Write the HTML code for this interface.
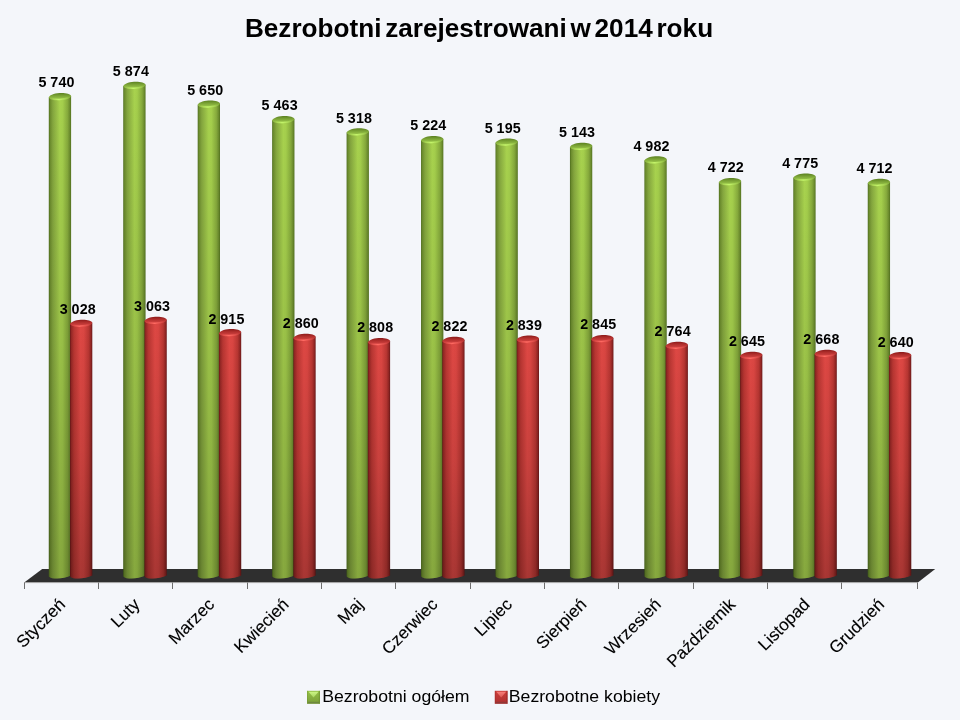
<!DOCTYPE html><html><head><meta charset="utf-8"><style>
html,body{margin:0;padding:0;width:960px;height:720px;overflow:hidden;background:#F4F6FA}
svg{display:block;will-change:transform}
text{font-family:"Liberation Sans",sans-serif}
</style></head><body>
<svg width="960" height="720" viewBox="0 0 960 720">
<defs>
<linearGradient id="gH" x1="0" x2="1" y1="0" y2="0">
 <stop offset="0" stop-color="#4A6A1A"/><stop offset="0.05" stop-color="#6A8A2C"/>
 <stop offset="0.18" stop-color="#84A63E"/><stop offset="0.5" stop-color="#A8D24E"/>
 <stop offset="0.62" stop-color="#A4CE4C"/><stop offset="0.84" stop-color="#86AA3C"/>
 <stop offset="0.94" stop-color="#6C8C2E"/><stop offset="1" stop-color="#52721E"/>
</linearGradient>
<linearGradient id="rH" x1="0" x2="1" y1="0" y2="0">
 <stop offset="0" stop-color="#641616"/><stop offset="0.05" stop-color="#922624"/>
 <stop offset="0.18" stop-color="#B83632"/><stop offset="0.47" stop-color="#DE4844"/>
 <stop offset="0.62" stop-color="#DA4642"/><stop offset="0.84" stop-color="#B83632"/>
 <stop offset="0.94" stop-color="#922624"/><stop offset="1" stop-color="#6A1818"/>
</linearGradient>
<linearGradient id="vShadeR" x1="0" x2="0" y1="0" y2="1">
 <stop offset="0" stop-color="#000" stop-opacity="0"/>
 <stop offset="0.5" stop-color="#000" stop-opacity="0.09"/>
 <stop offset="1" stop-color="#000" stop-opacity="0.24"/>
</linearGradient>
<linearGradient id="vShade" x1="0" x2="0" y1="0" y2="1">
 <stop offset="0" stop-color="#000" stop-opacity="0"/>
 <stop offset="0.5" stop-color="#000" stop-opacity="0.08"/>
 <stop offset="1" stop-color="#000" stop-opacity="0.2"/>
</linearGradient>
<linearGradient id="gTop" x1="0" x2="0" y1="0" y2="1">
 <stop offset="0" stop-color="#5A8020"/><stop offset="0.35" stop-color="#78A034"/><stop offset="0.8" stop-color="#98C448"/><stop offset="1" stop-color="#A8D450"/>
</linearGradient>
<linearGradient id="rTop" x1="0" x2="0" y1="0" y2="1">
 <stop offset="0" stop-color="#8A1A1A"/><stop offset="0.35" stop-color="#B02E2C"/><stop offset="0.8" stop-color="#D04240"/><stop offset="1" stop-color="#DC4844"/>
</linearGradient>
<linearGradient id="gHL" x1="0" x2="1" y1="0" y2="0">
 <stop offset="0" stop-color="#C4F46A" stop-opacity="0"/><stop offset="0.42" stop-color="#C4F46A" stop-opacity="1"/><stop offset="1" stop-color="#C4F46A" stop-opacity="0"/>
</linearGradient>
<linearGradient id="rHL" x1="0" x2="1" y1="0" y2="0">
 <stop offset="0" stop-color="#FF6A62" stop-opacity="0"/><stop offset="0.42" stop-color="#FF6A62" stop-opacity="1"/><stop offset="1" stop-color="#FF6A62" stop-opacity="0"/>
</linearGradient>
</defs>
<rect x="0" y="0" width="960" height="720" fill="#F4F6FA"/>

<text x="479" y="37" text-anchor="middle" font-size="26" font-weight="bold" word-spacing="-3.5" fill="#000" transform="translate(479 0) scale(1.006 1) translate(-479 0)">Bezrobotni zarejestrowani w 2014 roku</text>
<polygon points="24.2,582.5 42.2,569 935.2,569 918.2,582.2" fill="#2F2F2F"/>
<line x1="24.2" y1="582.6" x2="918" y2="582.6" stroke="#A8A8A8" stroke-width="1"/>
<line x1="24.5" y1="582.5" x2="24.5" y2="589" stroke="#6E6E6E" stroke-width="1"/>
<line x1="98.5" y1="582.5" x2="98.5" y2="589" stroke="#6E6E6E" stroke-width="1"/>
<line x1="172.5" y1="582.5" x2="172.5" y2="589" stroke="#6E6E6E" stroke-width="1"/>
<line x1="247.5" y1="582.5" x2="247.5" y2="589" stroke="#6E6E6E" stroke-width="1"/>
<line x1="321.5" y1="582.5" x2="321.5" y2="589" stroke="#6E6E6E" stroke-width="1"/>
<line x1="395.5" y1="582.5" x2="395.5" y2="589" stroke="#6E6E6E" stroke-width="1"/>
<line x1="470.5" y1="582.5" x2="470.5" y2="589" stroke="#6E6E6E" stroke-width="1"/>
<line x1="544.5" y1="582.5" x2="544.5" y2="589" stroke="#6E6E6E" stroke-width="1"/>
<line x1="618.5" y1="582.5" x2="618.5" y2="589" stroke="#6E6E6E" stroke-width="1"/>
<line x1="693.5" y1="582.5" x2="693.5" y2="589" stroke="#6E6E6E" stroke-width="1"/>
<line x1="767.5" y1="582.5" x2="767.5" y2="589" stroke="#6E6E6E" stroke-width="1"/>
<line x1="841.5" y1="582.5" x2="841.5" y2="589" stroke="#6E6E6E" stroke-width="1"/>
<line x1="917.5" y1="582.5" x2="917.5" y2="589" stroke="#6E6E6E" stroke-width="1"/>
<path d="M48.80,97.14 L48.80,576.40 C52.14,579.70 63.30,579.20 71.10,575.60 L71.10,95.94 Z" fill="url(#gH)"/><path d="M48.80,97.14 L48.80,576.40 C52.14,579.70 63.30,579.20 71.10,575.60 L71.10,95.94 Z" fill="url(#vShade)"/><path d="M48.80,97.14 C51.03,91.94 69.98,91.54 71.10,95.94 C69.98,101.14 49.91,101.74 48.80,97.14 Z" fill="url(#gTop)"/><path d="M51.48,98.34 C55.49,100.04 63.30,99.74 68.87,97.54" fill="none" stroke="url(#gHL)" stroke-width="1.5"/>
<path d="M70.00,323.86 L70.00,576.40 C73.34,579.70 84.50,579.20 92.30,575.60 L92.30,322.66 Z" fill="url(#rH)"/><path d="M70.00,323.86 L70.00,576.40 C73.34,579.70 84.50,579.20 92.30,575.60 L92.30,322.66 Z" fill="url(#vShadeR)"/><path d="M70.00,323.86 C72.23,318.66 91.19,318.26 92.30,322.66 C91.19,327.86 71.11,328.46 70.00,323.86 Z" fill="url(#rTop)"/><path d="M72.68,325.06 C76.69,326.76 84.50,326.46 90.07,324.26" fill="none" stroke="url(#rHL)" stroke-width="1.5"/>
<path d="M123.25,85.93 L123.25,576.40 C126.59,579.70 137.75,579.20 145.55,575.60 L145.55,84.73 Z" fill="url(#gH)"/><path d="M123.25,85.93 L123.25,576.40 C126.59,579.70 137.75,579.20 145.55,575.60 L145.55,84.73 Z" fill="url(#vShade)"/><path d="M123.25,85.93 C125.48,80.73 144.44,80.33 145.55,84.73 C144.44,89.93 124.36,90.53 123.25,85.93 Z" fill="url(#gTop)"/><path d="M125.93,87.13 C129.94,88.83 137.75,88.53 143.32,86.33" fill="none" stroke="url(#gHL)" stroke-width="1.5"/>
<path d="M144.45,320.93 L144.45,576.40 C147.79,579.70 158.94,579.20 166.75,575.60 L166.75,319.73 Z" fill="url(#rH)"/><path d="M144.45,320.93 L144.45,576.40 C147.79,579.70 158.94,579.20 166.75,575.60 L166.75,319.73 Z" fill="url(#vShadeR)"/><path d="M144.45,320.93 C146.68,315.73 165.63,315.33 166.75,319.73 C165.63,324.93 145.56,325.53 144.45,320.93 Z" fill="url(#rTop)"/><path d="M147.13,322.13 C151.14,323.83 158.94,323.53 164.52,321.33" fill="none" stroke="url(#rHL)" stroke-width="1.5"/>
<path d="M197.70,104.66 L197.70,576.40 C201.04,579.70 212.19,579.20 220.00,575.60 L220.00,103.46 Z" fill="url(#gH)"/><path d="M197.70,104.66 L197.70,576.40 C201.04,579.70 212.19,579.20 220.00,575.60 L220.00,103.46 Z" fill="url(#vShade)"/><path d="M197.70,104.66 C199.93,99.46 218.88,99.06 220.00,103.46 C218.88,108.66 198.81,109.26 197.70,104.66 Z" fill="url(#gTop)"/><path d="M200.38,105.86 C204.39,107.56 212.19,107.26 217.77,105.06" fill="none" stroke="url(#gHL)" stroke-width="1.5"/>
<path d="M218.90,333.31 L218.90,576.40 C222.24,579.70 233.39,579.20 241.20,575.60 L241.20,332.11 Z" fill="url(#rH)"/><path d="M218.90,333.31 L218.90,576.40 C222.24,579.70 233.39,579.20 241.20,575.60 L241.20,332.11 Z" fill="url(#vShadeR)"/><path d="M218.90,333.31 C221.13,328.11 240.08,327.71 241.20,332.11 C240.08,337.31 220.01,337.91 218.90,333.31 Z" fill="url(#rTop)"/><path d="M221.58,334.51 C225.59,336.21 233.39,335.91 238.97,333.71" fill="none" stroke="url(#rHL)" stroke-width="1.5"/>
<path d="M272.15,120.29 L272.15,576.40 C275.50,579.70 286.65,579.20 294.45,575.60 L294.45,119.09 Z" fill="url(#gH)"/><path d="M272.15,120.29 L272.15,576.40 C275.50,579.70 286.65,579.20 294.45,575.60 L294.45,119.09 Z" fill="url(#vShade)"/><path d="M272.15,120.29 C274.38,115.09 293.34,114.69 294.45,119.09 C293.34,124.29 273.27,124.89 272.15,120.29 Z" fill="url(#gTop)"/><path d="M274.83,121.49 C278.84,123.19 286.65,122.89 292.22,120.69" fill="none" stroke="url(#gHL)" stroke-width="1.5"/>
<path d="M293.35,337.90 L293.35,576.40 C296.70,579.70 307.85,579.20 315.65,575.60 L315.65,336.70 Z" fill="url(#rH)"/><path d="M293.35,337.90 L293.35,576.40 C296.70,579.70 307.85,579.20 315.65,575.60 L315.65,336.70 Z" fill="url(#vShadeR)"/><path d="M293.35,337.90 C295.58,332.70 314.54,332.30 315.65,336.70 C314.54,341.90 294.47,342.50 293.35,337.90 Z" fill="url(#rTop)"/><path d="M296.03,339.10 C300.04,340.80 307.85,340.50 313.42,338.30" fill="none" stroke="url(#rHL)" stroke-width="1.5"/>
<path d="M346.60,132.42 L346.60,576.40 C349.95,579.70 361.10,579.20 368.90,575.60 L368.90,131.22 Z" fill="url(#gH)"/><path d="M346.60,132.42 L346.60,576.40 C349.95,579.70 361.10,579.20 368.90,575.60 L368.90,131.22 Z" fill="url(#vShade)"/><path d="M346.60,132.42 C348.83,127.22 367.79,126.82 368.90,131.22 C367.79,136.42 347.72,137.02 346.60,132.42 Z" fill="url(#gTop)"/><path d="M349.28,133.62 C353.29,135.32 361.10,135.02 366.67,132.82" fill="none" stroke="url(#gHL)" stroke-width="1.5"/>
<path d="M367.80,342.25 L367.80,576.40 C371.15,579.70 382.30,579.20 390.10,575.60 L390.10,341.05 Z" fill="url(#rH)"/><path d="M367.80,342.25 L367.80,576.40 C371.15,579.70 382.30,579.20 390.10,575.60 L390.10,341.05 Z" fill="url(#vShadeR)"/><path d="M367.80,342.25 C370.03,337.05 388.99,336.65 390.10,341.05 C388.99,346.25 368.92,346.85 367.80,342.25 Z" fill="url(#rTop)"/><path d="M370.48,343.45 C374.49,345.15 382.30,344.85 387.87,342.65" fill="none" stroke="url(#rHL)" stroke-width="1.5"/>
<path d="M421.05,140.27 L421.05,576.40 C424.40,579.70 435.55,579.20 443.35,575.60 L443.35,139.07 Z" fill="url(#gH)"/><path d="M421.05,140.27 L421.05,576.40 C424.40,579.70 435.55,579.20 443.35,575.60 L443.35,139.07 Z" fill="url(#vShade)"/><path d="M421.05,140.27 C423.28,135.07 442.24,134.67 443.35,139.07 C442.24,144.27 422.17,144.87 421.05,140.27 Z" fill="url(#gTop)"/><path d="M423.73,141.47 C427.74,143.17 435.55,142.87 441.12,140.67" fill="none" stroke="url(#gHL)" stroke-width="1.5"/>
<path d="M442.25,341.08 L442.25,576.40 C445.60,579.70 456.75,579.20 464.55,575.60 L464.55,339.88 Z" fill="url(#rH)"/><path d="M442.25,341.08 L442.25,576.40 C445.60,579.70 456.75,579.20 464.55,575.60 L464.55,339.88 Z" fill="url(#vShadeR)"/><path d="M442.25,341.08 C444.48,335.88 463.44,335.48 464.55,339.88 C463.44,345.08 443.37,345.68 442.25,341.08 Z" fill="url(#rTop)"/><path d="M444.93,342.28 C448.94,343.98 456.75,343.68 462.32,341.48" fill="none" stroke="url(#rHL)" stroke-width="1.5"/>
<path d="M495.50,142.70 L495.50,576.40 C498.85,579.70 510.00,579.20 517.80,575.60 L517.80,141.50 Z" fill="url(#gH)"/><path d="M495.50,142.70 L495.50,576.40 C498.85,579.70 510.00,579.20 517.80,575.60 L517.80,141.50 Z" fill="url(#vShade)"/><path d="M495.50,142.70 C497.73,137.50 516.69,137.10 517.80,141.50 C516.69,146.70 496.62,147.30 495.50,142.70 Z" fill="url(#gTop)"/><path d="M498.18,143.90 C502.19,145.60 510.00,145.30 515.57,143.10" fill="none" stroke="url(#gHL)" stroke-width="1.5"/>
<path d="M516.70,339.66 L516.70,576.40 C520.05,579.70 531.20,579.20 539.00,575.60 L539.00,338.46 Z" fill="url(#rH)"/><path d="M516.70,339.66 L516.70,576.40 C520.05,579.70 531.20,579.20 539.00,575.60 L539.00,338.46 Z" fill="url(#vShadeR)"/><path d="M516.70,339.66 C518.93,334.46 537.88,334.06 539.00,338.46 C537.88,343.66 517.82,344.26 516.70,339.66 Z" fill="url(#rTop)"/><path d="M519.38,340.86 C523.39,342.56 531.20,342.26 536.77,340.06" fill="none" stroke="url(#rHL)" stroke-width="1.5"/>
<path d="M569.95,147.05 L569.95,576.40 C573.29,579.70 584.44,579.20 592.25,575.60 L592.25,145.85 Z" fill="url(#gH)"/><path d="M569.95,147.05 L569.95,576.40 C573.29,579.70 584.44,579.20 592.25,575.60 L592.25,145.85 Z" fill="url(#vShade)"/><path d="M569.95,147.05 C572.18,141.85 591.13,141.45 592.25,145.85 C591.13,151.05 571.06,151.65 569.95,147.05 Z" fill="url(#gTop)"/><path d="M572.63,148.25 C576.64,149.95 584.44,149.65 590.02,147.45" fill="none" stroke="url(#gHL)" stroke-width="1.5"/>
<path d="M591.15,339.16 L591.15,576.40 C594.50,579.70 605.64,579.20 613.45,575.60 L613.45,337.96 Z" fill="url(#rH)"/><path d="M591.15,339.16 L591.15,576.40 C594.50,579.70 605.64,579.20 613.45,575.60 L613.45,337.96 Z" fill="url(#vShadeR)"/><path d="M591.15,339.16 C593.38,333.96 612.33,333.56 613.45,337.96 C612.33,343.16 592.26,343.76 591.15,339.16 Z" fill="url(#rTop)"/><path d="M593.83,340.36 C597.84,342.06 605.64,341.76 611.22,339.56" fill="none" stroke="url(#rHL)" stroke-width="1.5"/>
<path d="M644.40,160.50 L644.40,576.40 C647.75,579.70 658.89,579.20 666.70,575.60 L666.70,159.30 Z" fill="url(#gH)"/><path d="M644.40,160.50 L644.40,576.40 C647.75,579.70 658.89,579.20 666.70,575.60 L666.70,159.30 Z" fill="url(#vShade)"/><path d="M644.40,160.50 C646.63,155.30 665.58,154.90 666.70,159.30 C665.58,164.50 645.51,165.10 644.40,160.50 Z" fill="url(#gTop)"/><path d="M647.08,161.70 C651.09,163.40 658.89,163.10 664.47,160.90" fill="none" stroke="url(#gHL)" stroke-width="1.5"/>
<path d="M665.60,345.93 L665.60,576.40 C668.95,579.70 680.10,579.20 687.90,575.60 L687.90,344.73 Z" fill="url(#rH)"/><path d="M665.60,345.93 L665.60,576.40 C668.95,579.70 680.10,579.20 687.90,575.60 L687.90,344.73 Z" fill="url(#vShadeR)"/><path d="M665.60,345.93 C667.83,340.73 686.78,340.33 687.90,344.73 C686.78,349.93 666.72,350.53 665.60,345.93 Z" fill="url(#rTop)"/><path d="M668.28,347.13 C672.29,348.83 680.10,348.53 685.67,346.33" fill="none" stroke="url(#rHL)" stroke-width="1.5"/>
<path d="M718.85,182.24 L718.85,576.40 C722.20,579.70 733.35,579.20 741.15,575.60 L741.15,181.04 Z" fill="url(#gH)"/><path d="M718.85,182.24 L718.85,576.40 C722.20,579.70 733.35,579.20 741.15,575.60 L741.15,181.04 Z" fill="url(#vShade)"/><path d="M718.85,182.24 C721.08,177.04 740.03,176.64 741.15,181.04 C740.03,186.24 719.97,186.84 718.85,182.24 Z" fill="url(#gTop)"/><path d="M721.53,183.44 C725.54,185.14 733.35,184.84 738.92,182.64" fill="none" stroke="url(#gHL)" stroke-width="1.5"/>
<path d="M740.05,355.88 L740.05,576.40 C743.40,579.70 754.55,579.20 762.35,575.60 L762.35,354.68 Z" fill="url(#rH)"/><path d="M740.05,355.88 L740.05,576.40 C743.40,579.70 754.55,579.20 762.35,575.60 L762.35,354.68 Z" fill="url(#vShadeR)"/><path d="M740.05,355.88 C742.28,350.68 761.24,350.28 762.35,354.68 C761.24,359.88 741.17,360.48 740.05,355.88 Z" fill="url(#rTop)"/><path d="M742.73,357.08 C746.74,358.78 754.55,358.48 760.12,356.28" fill="none" stroke="url(#rHL)" stroke-width="1.5"/>
<path d="M793.30,177.81 L793.30,576.40 C796.64,579.70 807.79,579.20 815.60,575.60 L815.60,176.61 Z" fill="url(#gH)"/><path d="M793.30,177.81 L793.30,576.40 C796.64,579.70 807.79,579.20 815.60,575.60 L815.60,176.61 Z" fill="url(#vShade)"/><path d="M793.30,177.81 C795.53,172.61 814.48,172.21 815.60,176.61 C814.48,181.81 794.41,182.41 793.30,177.81 Z" fill="url(#gTop)"/><path d="M795.98,179.01 C799.99,180.71 807.79,180.41 813.37,178.21" fill="none" stroke="url(#gHL)" stroke-width="1.5"/>
<path d="M814.50,353.96 L814.50,576.40 C817.85,579.70 829.00,579.20 836.80,575.60 L836.80,352.76 Z" fill="url(#rH)"/><path d="M814.50,353.96 L814.50,576.40 C817.85,579.70 829.00,579.20 836.80,575.60 L836.80,352.76 Z" fill="url(#vShadeR)"/><path d="M814.50,353.96 C816.73,348.76 835.68,348.36 836.80,352.76 C835.68,357.96 815.62,358.56 814.50,353.96 Z" fill="url(#rTop)"/><path d="M817.18,355.16 C821.19,356.86 829.00,356.56 834.57,354.36" fill="none" stroke="url(#rHL)" stroke-width="1.5"/>
<path d="M867.75,183.08 L867.75,576.40 C871.10,579.70 882.25,579.20 890.05,575.60 L890.05,181.88 Z" fill="url(#gH)"/><path d="M867.75,183.08 L867.75,576.40 C871.10,579.70 882.25,579.20 890.05,575.60 L890.05,181.88 Z" fill="url(#vShade)"/><path d="M867.75,183.08 C869.98,177.88 888.93,177.48 890.05,181.88 C888.93,187.08 868.87,187.68 867.75,183.08 Z" fill="url(#gTop)"/><path d="M870.43,184.28 C874.44,185.98 882.25,185.68 887.82,183.48" fill="none" stroke="url(#gHL)" stroke-width="1.5"/>
<path d="M888.95,356.30 L888.95,576.40 C892.30,579.70 903.45,579.20 911.25,575.60 L911.25,355.10 Z" fill="url(#rH)"/><path d="M888.95,356.30 L888.95,576.40 C892.30,579.70 903.45,579.20 911.25,575.60 L911.25,355.10 Z" fill="url(#vShadeR)"/><path d="M888.95,356.30 C891.18,351.10 910.13,350.70 911.25,355.10 C910.13,360.30 890.07,360.90 888.95,356.30 Z" fill="url(#rTop)"/><path d="M891.63,357.50 C895.64,359.20 903.45,358.90 909.02,356.70" fill="none" stroke="url(#rHL)" stroke-width="1.5"/>
<text x="56.55" y="87.34" text-anchor="middle" font-size="14.3" font-weight="bold" letter-spacing="0.15" word-spacing="-0.35" fill="#000" transform="translate(56.55 0) scale(1.0 1) translate(-56.55 0)">5 740</text>
<text x="77.75" y="314.06" text-anchor="middle" font-size="14.3" font-weight="bold" letter-spacing="0.15" word-spacing="-0.35" fill="#000" transform="translate(77.75 0) scale(1.0 1) translate(-77.75 0)">3 028</text>
<text x="130.92" y="76.13" text-anchor="middle" font-size="14.3" font-weight="bold" letter-spacing="0.15" word-spacing="-0.35" fill="#000" transform="translate(130.92 0) scale(1.0 1) translate(-130.92 0)">5 874</text>
<text x="152.12" y="311.13" text-anchor="middle" font-size="14.3" font-weight="bold" letter-spacing="0.15" word-spacing="-0.35" fill="#000" transform="translate(152.12 0) scale(1.0 1) translate(-152.12 0)">3 063</text>
<text x="205.29" y="94.86" text-anchor="middle" font-size="14.3" font-weight="bold" letter-spacing="0.15" word-spacing="-0.35" fill="#000" transform="translate(205.29 0) scale(1.0 1) translate(-205.29 0)">5 650</text>
<text x="226.49" y="323.51" text-anchor="middle" font-size="14.3" font-weight="bold" letter-spacing="0.15" word-spacing="-0.35" fill="#000" transform="translate(226.49 0) scale(1.0 1) translate(-226.49 0)">2 915</text>
<text x="279.66" y="110.49" text-anchor="middle" font-size="14.3" font-weight="bold" letter-spacing="0.15" word-spacing="-0.35" fill="#000" transform="translate(279.66 0) scale(1.0 1) translate(-279.66 0)">5 463</text>
<text x="300.86" y="328.10" text-anchor="middle" font-size="14.3" font-weight="bold" letter-spacing="0.15" word-spacing="-0.35" fill="#000" transform="translate(300.86 0) scale(1.0 1) translate(-300.86 0)">2 860</text>
<text x="354.03" y="122.62" text-anchor="middle" font-size="14.3" font-weight="bold" letter-spacing="0.15" word-spacing="-0.35" fill="#000" transform="translate(354.03 0) scale(1.0 1) translate(-354.03 0)">5 318</text>
<text x="375.23" y="332.45" text-anchor="middle" font-size="14.3" font-weight="bold" letter-spacing="0.15" word-spacing="-0.35" fill="#000" transform="translate(375.23 0) scale(1.0 1) translate(-375.23 0)">2 808</text>
<text x="428.40" y="130.47" text-anchor="middle" font-size="14.3" font-weight="bold" letter-spacing="0.15" word-spacing="-0.35" fill="#000" transform="translate(428.40 0) scale(1.0 1) translate(-428.40 0)">5 224</text>
<text x="449.60" y="331.28" text-anchor="middle" font-size="14.3" font-weight="bold" letter-spacing="0.15" word-spacing="-0.35" fill="#000" transform="translate(449.60 0) scale(1.0 1) translate(-449.60 0)">2 822</text>
<text x="502.77" y="132.90" text-anchor="middle" font-size="14.3" font-weight="bold" letter-spacing="0.15" word-spacing="-0.35" fill="#000" transform="translate(502.77 0) scale(1.0 1) translate(-502.77 0)">5 195</text>
<text x="523.97" y="329.86" text-anchor="middle" font-size="14.3" font-weight="bold" letter-spacing="0.15" word-spacing="-0.35" fill="#000" transform="translate(523.97 0) scale(1.0 1) translate(-523.97 0)">2 839</text>
<text x="577.14" y="137.25" text-anchor="middle" font-size="14.3" font-weight="bold" letter-spacing="0.15" word-spacing="-0.35" fill="#000" transform="translate(577.14 0) scale(1.0 1) translate(-577.14 0)">5 143</text>
<text x="598.34" y="329.36" text-anchor="middle" font-size="14.3" font-weight="bold" letter-spacing="0.15" word-spacing="-0.35" fill="#000" transform="translate(598.34 0) scale(1.0 1) translate(-598.34 0)">2 845</text>
<text x="651.51" y="150.70" text-anchor="middle" font-size="14.3" font-weight="bold" letter-spacing="0.15" word-spacing="-0.35" fill="#000" transform="translate(651.51 0) scale(1.0 1) translate(-651.51 0)">4 982</text>
<text x="672.71" y="336.13" text-anchor="middle" font-size="14.3" font-weight="bold" letter-spacing="0.15" word-spacing="-0.35" fill="#000" transform="translate(672.71 0) scale(1.0 1) translate(-672.71 0)">2 764</text>
<text x="725.88" y="172.44" text-anchor="middle" font-size="14.3" font-weight="bold" letter-spacing="0.15" word-spacing="-0.35" fill="#000" transform="translate(725.88 0) scale(1.0 1) translate(-725.88 0)">4 722</text>
<text x="747.08" y="346.08" text-anchor="middle" font-size="14.3" font-weight="bold" letter-spacing="0.15" word-spacing="-0.35" fill="#000" transform="translate(747.08 0) scale(1.0 1) translate(-747.08 0)">2 645</text>
<text x="800.25" y="168.01" text-anchor="middle" font-size="14.3" font-weight="bold" letter-spacing="0.15" word-spacing="-0.35" fill="#000" transform="translate(800.25 0) scale(1.0 1) translate(-800.25 0)">4 775</text>
<text x="821.45" y="344.16" text-anchor="middle" font-size="14.3" font-weight="bold" letter-spacing="0.15" word-spacing="-0.35" fill="#000" transform="translate(821.45 0) scale(1.0 1) translate(-821.45 0)">2 668</text>
<text x="874.62" y="173.28" text-anchor="middle" font-size="14.3" font-weight="bold" letter-spacing="0.15" word-spacing="-0.35" fill="#000" transform="translate(874.62 0) scale(1.0 1) translate(-874.62 0)">4 712</text>
<text x="895.82" y="346.50" text-anchor="middle" font-size="14.3" font-weight="bold" letter-spacing="0.15" word-spacing="-0.35" fill="#000" transform="translate(895.82 0) scale(1.0 1) translate(-895.82 0)">2 640</text>
<text x="66.33" y="605.50" text-anchor="end" font-size="17" fill="#000" stroke="#000" stroke-width="0.12" transform="rotate(-45 66.33 605.50) translate(66.33 0) scale(1.01 1) translate(-66.33 0)">Styczeń</text>
<text x="140.78" y="605.50" text-anchor="end" font-size="17" fill="#000" stroke="#000" stroke-width="0.12" transform="rotate(-45 140.78 605.50) translate(140.78 0) scale(1.01 1) translate(-140.78 0)">Luty</text>
<text x="215.22" y="605.50" text-anchor="end" font-size="17" fill="#000" stroke="#000" stroke-width="0.12" transform="rotate(-45 215.22 605.50) translate(215.22 0) scale(1.01 1) translate(-215.22 0)">Marzec</text>
<text x="289.67" y="605.50" text-anchor="end" font-size="17" fill="#000" stroke="#000" stroke-width="0.12" transform="rotate(-45 289.67 605.50) translate(289.67 0) scale(1.01 1) translate(-289.67 0)">Kwiecień</text>
<text x="364.12" y="605.50" text-anchor="end" font-size="17" fill="#000" stroke="#000" stroke-width="0.12" transform="rotate(-45 364.12 605.50) translate(364.12 0) scale(1.01 1) translate(-364.12 0)">Maj</text>
<text x="438.57" y="605.50" text-anchor="end" font-size="17" fill="#000" stroke="#000" stroke-width="0.12" transform="rotate(-45 438.57 605.50) translate(438.57 0) scale(1.01 1) translate(-438.57 0)">Czerwiec</text>
<text x="513.02" y="605.50" text-anchor="end" font-size="17" fill="#000" stroke="#000" stroke-width="0.12" transform="rotate(-45 513.02 605.50) translate(513.02 0) scale(1.01 1) translate(-513.02 0)">Lipiec</text>
<text x="587.48" y="605.50" text-anchor="end" font-size="17" fill="#000" stroke="#000" stroke-width="0.12" transform="rotate(-45 587.48 605.50) translate(587.48 0) scale(1.01 1) translate(-587.48 0)">Sierpień</text>
<text x="661.93" y="605.50" text-anchor="end" font-size="17" fill="#000" stroke="#000" stroke-width="0.12" transform="rotate(-45 661.93 605.50) translate(661.93 0) scale(1.01 1) translate(-661.93 0)">Wrzesień</text>
<text x="736.38" y="605.50" text-anchor="end" font-size="17" fill="#000" stroke="#000" stroke-width="0.12" transform="rotate(-45 736.38 605.50) translate(736.38 0) scale(1.01 1) translate(-736.38 0)">Październik</text>
<text x="810.83" y="605.50" text-anchor="end" font-size="17" fill="#000" stroke="#000" stroke-width="0.12" transform="rotate(-45 810.83 605.50) translate(810.83 0) scale(1.01 1) translate(-810.83 0)">Listopad</text>
<text x="885.28" y="605.50" text-anchor="end" font-size="17" fill="#000" stroke="#000" stroke-width="0.12" transform="rotate(-45 885.28 605.50) translate(885.28 0) scale(1.01 1) translate(-885.28 0)">Grudzień</text>
<defs><linearGradient id="lbg" x1="0" x2="0" y1="0" y2="1"><stop offset="0" stop-color="#94C046"/><stop offset="1" stop-color="#7A9E38"/></linearGradient><linearGradient id="ltg" x1="0" x2="0" y1="0" y2="1"><stop offset="0" stop-color="#CCF484"/><stop offset="1" stop-color="#A6D45E"/></linearGradient></defs><rect x="307" y="690.8" width="13" height="13" fill="url(#lbg)"/><rect x="318.80" y="690.8" width="1.2" height="13" fill="#5E7E26" opacity="0.45"/><rect x="307" y="690.8" width="1" height="13" fill="#5E7E26" opacity="0.25"/><polygon points="308.50,691.80 318.50,691.80 313.50,697.60" fill="url(#ltg)"/><rect x="308.00" y="701.80" width="11.00" height="1.6" fill="#6A8240" opacity="0.8"/>
<text x="322.2" y="701.8" font-size="17" fill="#000" transform="translate(322.2 0) scale(1.04 1) translate(-322.2 0)">Bezrobotni ogółem</text>
<defs><linearGradient id="lbr" x1="0" x2="0" y1="0" y2="1"><stop offset="0" stop-color="#CC3E3A"/><stop offset="1" stop-color="#AE3030"/></linearGradient><linearGradient id="ltr" x1="0" x2="0" y1="0" y2="1"><stop offset="0" stop-color="#F67E78"/><stop offset="1" stop-color="#DC5652"/></linearGradient></defs><rect x="494.8" y="690.8" width="12.8" height="13" fill="url(#lbr)"/><rect x="506.40" y="690.8" width="1.2" height="13" fill="#7E2020" opacity="0.45"/><rect x="494.8" y="690.8" width="1" height="13" fill="#7E2020" opacity="0.25"/><polygon points="496.30,691.80 506.10,691.80 501.20,697.60" fill="url(#ltr)"/><rect x="495.80" y="701.80" width="10.80" height="1.6" fill="#8A3A3A" opacity="0.8"/>
<text x="508.8" y="701.8" font-size="17" fill="#000" transform="translate(508.8 0) scale(1.04 1) translate(-508.8 0)">Bezrobotne kobiety</text>
</svg></body></html>
